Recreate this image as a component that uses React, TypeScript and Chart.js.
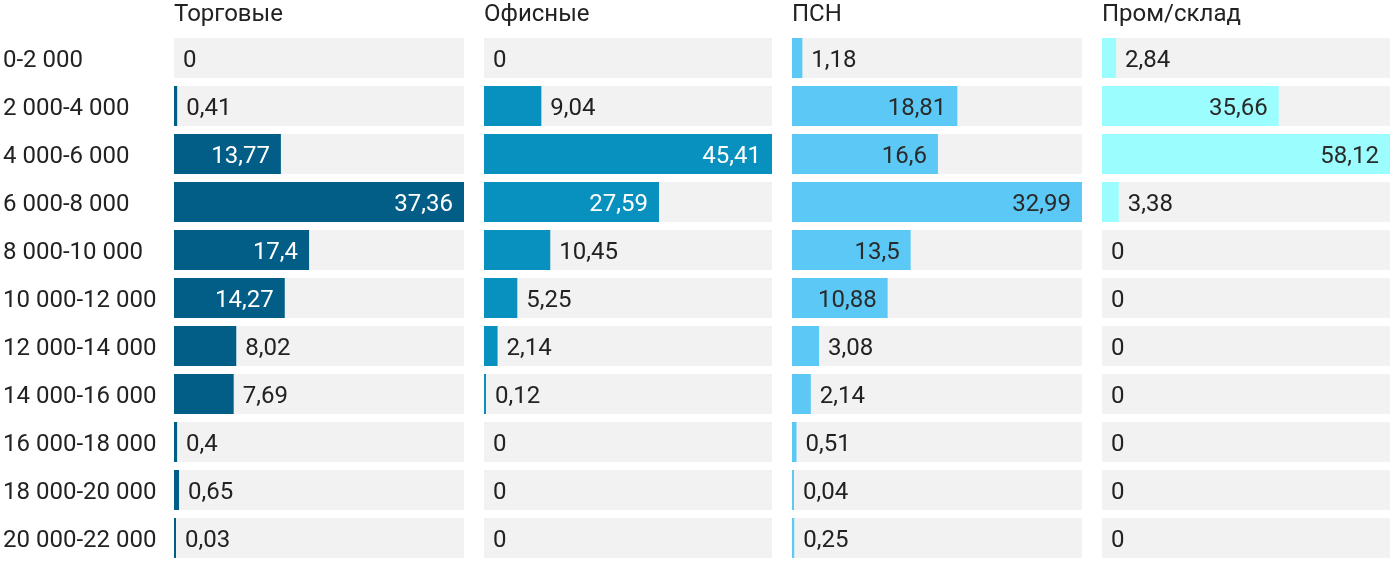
import React, { useEffect, useRef } from "react";
import { Chart, registerables } from "chart.js";

Chart.register(...registerables);

const categories = [
  "0-2 000",
  "2 000-4 000",
  "4 000-6 000",
  "6 000-8 000",
  "8 000-10 000",
  "10 000-12 000",
  "12 000-14 000",
  "14 000-16 000",
  "16 000-18 000",
  "18 000-20 000",
  "20 000-22 000",
];

const panelTitles = ["Торговые", "Офисные", "ПСН", "Пром/склад"];

const retailValues = [0, 0.41, 13.77, 37.36, 17.4, 14.27, 8.02, 7.69, 0.4, 0.65, 0.03];
const officeValues = [0, 9.04, 45.41, 27.59, 10.45, 5.25, 2.14, 0.12, 0, 0, 0];
const psnValues = [1.18, 18.81, 16.6, 32.99, 13.5, 10.88, 3.08, 2.14, 0.51, 0.04, 0.25];
const industrialValues = [2.84, 35.66, 58.12, 3.38, 0, 0, 0, 0, 0, 0, 0];

const seriesValues = [retailValues, officeValues, psnValues, industrialValues];
const barColors = ["#035e87", "#0891be", "#5bc8f5", "#9bfdfd"];
const insideTextColors = ["#ffffff", "#ffffff", "#2a2a2a", "#2a2a2a"];

const FONT = "Roboto, 'Noto Sans', sans-serif";
const FONT_SIZE = 24;
const TEXT_DARK = "#222222";

const panels = [
  { left: 0, width: 464 },
  { left: 484, width: 288 },
  { left: 792, width: 290 },
  { left: 1102, width: 288 },
];

const fmt = (v: number) => String(v).replace(".", ",");

function Panel({ idx }: { idx: number }) {
  const ref = useRef<HTMLCanvasElement | null>(null);
  useEffect(() => {
    if (!ref.current) return;
    const values = seriesValues[idx];
    const max = Math.max(...values);
    const first = idx === 0;
    const labelPlugin = {
      id: "labelsAndTitle" + idx,
      afterDatasetsDraw(chart: any) {
        const ctx = chart.ctx;
        const xs = chart.scales.x;
        const ys = chart.scales.y;
        const area = chart.chartArea;
        const baseShift = 8.5;
        ctx.save();
        ctx.font = `${FONT_SIZE}px ${FONT}`;
        ctx.textBaseline = "alphabetic";
        ctx.fillStyle = TEXT_DARK;
        ctx.textAlign = "left";
        ctx.fillText(panelTitles[idx], area.left, 21);
        if (first) {
          categories.forEach((c, i) => {
            ctx.fillStyle = TEXT_DARK;
            ctx.textAlign = "left";
            ctx.fillText(ys.getLabelForValue(i) || c, 3, ys.getPixelForValue(i) + baseShift);
          });
        }
        values.forEach((v: number, i: number) => {
          const y = ys.getPixelForValue(i) + baseShift;
          let end = xs.getPixelForValue(v);
          if (v > 0) end = Math.max(end, area.left + 2);
          else end = area.left;
          const text = fmt(v);
          const tw = ctx.measureText(text).width;
          const bw = end - area.left;
          if (bw >= tw + 22) {
            ctx.textAlign = "right";
            ctx.fillStyle = insideTextColors[idx];
            ctx.fillText(text, end - 11, y);
          } else {
            ctx.textAlign = "left";
            ctx.fillStyle = TEXT_DARK;
            ctx.fillText(text, end + 9, y);
          }
        });
        ctx.restore();
      },
    };
    const chart = new Chart(ref.current, {
      type: "bar",
      data: {
        labels: categories,
        datasets: [
          {
            data: values.map((v) => (v === 0 ? null : v)),
            backgroundColor: barColors[idx],
            grouped: false,
            minBarLength: 2,
            order: 0,
            barPercentage: 1,
            categoryPercentage: 40 / 48,
          } as any,
          {
            data: values.map(() => max),
            backgroundColor: "#f2f2f2",
            grouped: false,
            order: 1,
            barPercentage: 1,
            categoryPercentage: 40 / 48,
          } as any,
        ],
      },
      options: {
        indexAxis: "y",
        animation: false,
        responsive: true,
        maintainAspectRatio: false,
        events: [],
        layout: { padding: { left: first ? 174 : 0, right: 0, top: 34, bottom: 12 } },
        plugins: { legend: { display: false }, tooltip: { enabled: false }, title: { display: false } },
        scales: {
          x: { display: false, min: 0, max: max },
          y: { display: false },
        },
      },
      plugins: [labelPlugin],
    } as any);
    return () => chart.destroy();
  }, [idx]);
  const p = panels[idx];
  return (
    <div style={{ position: "absolute", left: p.left, top: 0, width: p.width, height: 574 }}>
      <canvas ref={ref} />
    </div>
  );
}

export default function App() {
  return (
    <div style={{ position: "absolute", left: 0, top: 0, width: 1400, height: 574, background: "#ffffff", fontFamily: FONT }}>
      {panels.map((_, i) => (
        <Panel key={i} idx={i} />
      ))}
    </div>
  );
}
